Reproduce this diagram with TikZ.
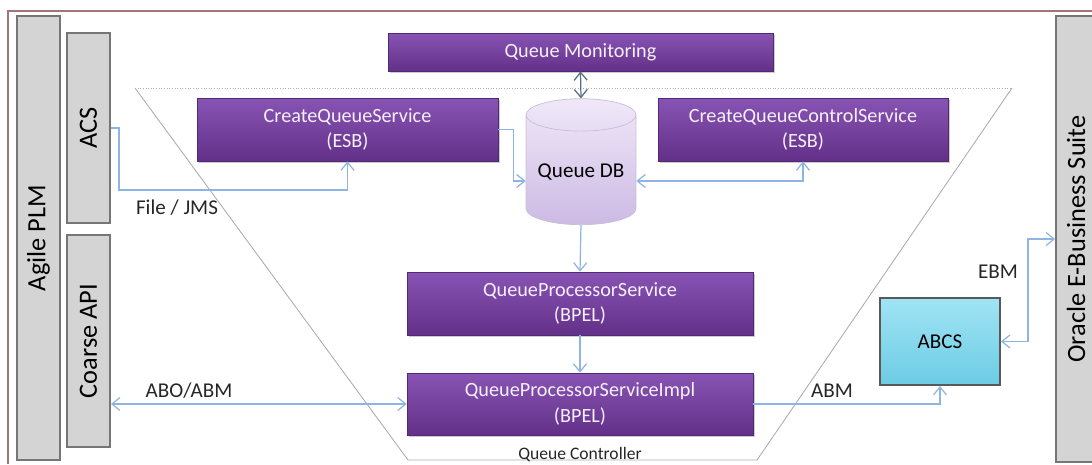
\documentclass[tikz,border=0pt]{standalone}
\usepackage{fontspec}
\setmainfont{Carlito}
\usepackage{tikz}
\usetikzlibrary{arrows.meta,positioning,shapes.geometric,shadows,calc}

\definecolor{plumtop}{RGB}{136,84,180}
\definecolor{plumbot}{RGB}{98,48,136}
\definecolor{plumtext}{RGB}{246,240,250}
\definecolor{linkblue}{RGB}{142,180,227}
\definecolor{barfill}{RGB}{212,212,212}
\definecolor{barline}{RGB}{118,118,118}
\definecolor{dbtop}{RGB}{240,232,248}
\definecolor{dbbot}{RGB}{204,186,228}
\definecolor{abcstop}{RGB}{160,228,244}
\definecolor{abcsbot}{RGB}{108,204,228}
\definecolor{framebrown}{RGB}{160,118,118}

\begin{document}
\begin{tikzpicture}[
x=0.02cm,
y=-0.02cm,
every node/.style={font=\fontsize{11.5}{14.5}\selectfont},
svc/.style={rectangle,top color=plumtop,bottom color=plumbot,draw=plumbot!85!black,thin,align=center,text=plumtext,inner sep=1pt,drop shadow={shadow xshift=1.2pt,shadow yshift=-1.2pt,opacity=0.4}},
sysbar/.style={rectangle,rotate=90,fill=barfill,draw=barline,line width=1.1pt,inner sep=1pt,minimum height=0.86cm,font=\fontsize{15}{18}\selectfont},
store/.style={cylinder,shape border rotate=90,aspect=0.36,top color=dbtop,bottom color=dbbot,draw=dbbot!80!black!60,minimum width=2.2cm,minimum height=2.52cm,inner sep=1pt,font=\fontsize{12}{14}\selectfont},
adapter/.style={rectangle,top color=abcstop,bottom color=abcsbot,draw=black!65,line width=1.1pt,font=\fontsize{12}{14}\selectfont},
link/.style={draw=linkblue,line width=0.7pt,-{Straight Barb[length=1.6mm,width=2.6mm]}},
both/.style={link,{Straight Barb[length=1.6mm,width=2.6mm]}-{Straight Barb[length=1.6mm,width=2.6mm]}},
tag/.style={font=\fontsize{12}{14}\selectfont,text=black!85,inner sep=0pt},
ctrl/.style={draw=black!32,line width=0.5pt}
]
\useasboundingbox (0,0) rectangle (1092,464);
\draw[draw=framebrown,line width=0.8pt] (8,464) -- (8,11) -- (1092,11);

\coordinate (qctl) at (135,88);
\coordinate (qctr) at (1012,88);
\coordinate (qcbr) at (757,460);
\coordinate (qcbl) at (408,460);
\draw[ctrl] (qcbl) -- (qctl);
\draw[ctrl] (qctr) -- (qcbr) -- (qcbl);
\draw[ctrl,densely dotted] (qctl) -- (qctr);
\node[font=\fontsize{10}{12}\selectfont,text=black!85,inner sep=0pt] (qclabel) at (580,455) {Queue Controller};

\node[sysbar,minimum width=8.88cm] (agile) at (38.5,238) {Agile PLM};
\node[sysbar,minimum width=3.8cm] (acs) at (88.5,128) {ACS};
\node[sysbar,minimum width=4.24cm] (coarse) at (88.5,341) {Coarse API};
\node[sysbar,minimum width=8.92cm,minimum height=0.8cm] (oracle) at (1076,239) {Oracle E-Business Suite};

\node[svc,minimum width=7.7cm,minimum height=0.76cm] (qmon) at (580.5,52) {Queue Monitoring};
\node[svc,minimum width=6.02cm,minimum height=1.26cm] (cqs) at (347.5,129.5) {CreateQueueService\\(ESB)};
\node[svc,minimum width=5.8cm,minimum height=1.26cm] (cqcs) at (803,129.5) {CreateQueueControlService\\(ESB)};
\node[store] (qdb) at (581,172) {Queue DB};
\node[svc,minimum width=6.92cm,minimum height=1.26cm] (qps) at (580,303.5) {QueueProcessorService\\(BPEL)};
\node[svc,minimum width=6.92cm,minimum height=1.24cm] (qpsi) at (580,404) {QueueProcessorServiceImpl\\(BPEL)};
\node[adapter,minimum width=2.4cm,minimum height=1.74cm] (abcs) at (940,341.5) {ABCS};

\node[tag] (filejms) at (177,208) {File / JMS};
\node[tag] (aboabm) at (189,391) {ABO/ABM};
\node[tag] (abm) at (832,391) {ABM};
\node[tag] (ebm) at (998,272) {EBM};

\draw[link] (acs.south) -- ++(8,0) -- ++(0,62) -| (cqs.south);
\draw[link] (cqs.east) -- ++(15,0) |- ($(qdb.west)+(0,9)$);
\draw[both,draw=linkblue!60!black] (qmon.south) -- (qdb.north);
\draw[both] ($(qdb.east)+(0,9)$) -| (cqcs.south);
\draw[link] (qdb.south) -- (qps.north);
\draw[link] (qps.south) -- (qpsi.north);
\draw[both] (qpsi.west -| coarse.south) -- (qpsi.west);
\draw[link] (qpsi.east) -| (abcs.south);
\draw[both] (abcs.east) -- ++(27,0) |- (oracle.north);
\end{tikzpicture}
\end{document}
